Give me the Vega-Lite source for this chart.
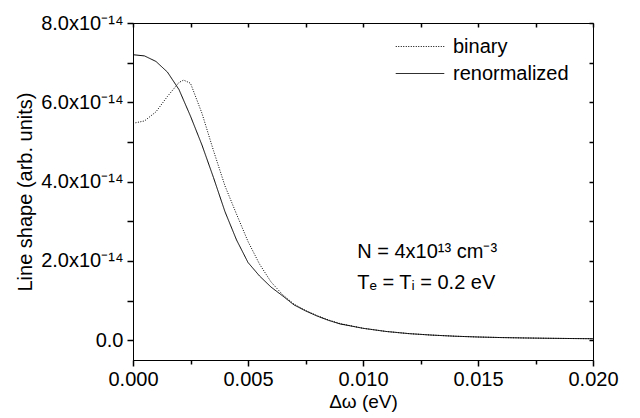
{
  "$schema": "https://vega.github.io/schema/vega-lite/v6.json",
  "width": 460,
  "height": 337,
  "autosize": "none",
  "padding": {"left": 133, "top": 23, "right": 47, "bottom": 58},
  "background": "white",
  "config": {
    "view": {"stroke": "black", "strokeWidth": 1},
    "font": "Liberation Sans",
    "axis": {"grid": false, "domainColor": "black", "labelColor": "black", "titleColor": "black", "labelFont": "Liberation Sans", "titleFont": "Liberation Sans", "labelFontSize": 20, "titleFontSize": 20, "titleFontWeight": "normal", "domainWidth": 1, "labelFlush": false, "labelOverlap": false, "zindex": 1}
  },
  "datasets": {
    "curves": [
      {"dw": 0.0, "v": 7.20e-14, "s": "renormalized"},
      {"dw": 0.0005, "v": 7.17e-14, "s": "renormalized"},
      {"dw": 0.001, "v": 7.03e-14, "s": "renormalized"},
      {"dw": 0.0015, "v": 6.76e-14, "s": "renormalized"},
      {"dw": 0.002, "v": 6.32e-14, "s": "renormalized"},
      {"dw": 0.0025, "v": 5.65e-14, "s": "renormalized"},
      {"dw": 0.003, "v": 4.92e-14, "s": "renormalized"},
      {"dw": 0.0035, "v": 4.10e-14, "s": "renormalized"},
      {"dw": 0.004, "v": 3.24e-14, "s": "renormalized"},
      {"dw": 0.0045, "v": 2.53e-14, "s": "renormalized"},
      {"dw": 0.005, "v": 1.96e-14, "s": "renormalized"},
      {"dw": 0.0055, "v": 1.62e-14, "s": "renormalized"},
      {"dw": 0.006, "v": 1.34e-14, "s": "renormalized"},
      {"dw": 0.0065, "v": 1.12e-14, "s": "renormalized"},
      {"dw": 0.007, "v": 0.89e-14, "s": "renormalized"},
      {"dw": 0.0075, "v": 0.74e-14, "s": "renormalized"},
      {"dw": 0.008, "v": 0.61e-14, "s": "renormalized"},
      {"dw": 0.0085, "v": 0.50e-14, "s": "renormalized"},
      {"dw": 0.009, "v": 0.41e-14, "s": "renormalized"},
      {"dw": 0.010, "v": 0.30e-14, "s": "renormalized"},
      {"dw": 0.011, "v": 0.22e-14, "s": "renormalized"},
      {"dw": 0.012, "v": 0.165e-14, "s": "renormalized"},
      {"dw": 0.013, "v": 0.128e-14, "s": "renormalized"},
      {"dw": 0.014, "v": 0.100e-14, "s": "renormalized"},
      {"dw": 0.015, "v": 0.080e-14, "s": "renormalized"},
      {"dw": 0.016, "v": 0.066e-14, "s": "renormalized"},
      {"dw": 0.017, "v": 0.056e-14, "s": "renormalized"},
      {"dw": 0.018, "v": 0.048e-14, "s": "renormalized"},
      {"dw": 0.019, "v": 0.042e-14, "s": "renormalized"},
      {"dw": 0.020, "v": 0.037e-14, "s": "renormalized"},
      {"dw": 0.0, "v": 5.47e-14, "s": "binary"},
      {"dw": 0.0005, "v": 5.53e-14, "s": "binary"},
      {"dw": 0.001, "v": 5.76e-14, "s": "binary"},
      {"dw": 0.0015, "v": 6.15e-14, "s": "binary"},
      {"dw": 0.002, "v": 6.50e-14, "s": "binary"},
      {"dw": 0.0022, "v": 6.56e-14, "s": "binary"},
      {"dw": 0.0025, "v": 6.48e-14, "s": "binary"},
      {"dw": 0.003, "v": 5.72e-14, "s": "binary"},
      {"dw": 0.0035, "v": 4.78e-14, "s": "binary"},
      {"dw": 0.004, "v": 3.89e-14, "s": "binary"},
      {"dw": 0.0045, "v": 3.18e-14, "s": "binary"},
      {"dw": 0.005, "v": 2.49e-14, "s": "binary"},
      {"dw": 0.0055, "v": 1.92e-14, "s": "binary"},
      {"dw": 0.006, "v": 1.47e-14, "s": "binary"},
      {"dw": 0.0065, "v": 1.15e-14, "s": "binary"},
      {"dw": 0.007, "v": 0.91e-14, "s": "binary"},
      {"dw": 0.0075, "v": 0.75e-14, "s": "binary"},
      {"dw": 0.008, "v": 0.62e-14, "s": "binary"},
      {"dw": 0.0085, "v": 0.51e-14, "s": "binary"},
      {"dw": 0.009, "v": 0.42e-14, "s": "binary"},
      {"dw": 0.010, "v": 0.30e-14, "s": "binary"},
      {"dw": 0.011, "v": 0.22e-14, "s": "binary"},
      {"dw": 0.012, "v": 0.165e-14, "s": "binary"},
      {"dw": 0.013, "v": 0.128e-14, "s": "binary"},
      {"dw": 0.014, "v": 0.100e-14, "s": "binary"},
      {"dw": 0.015, "v": 0.080e-14, "s": "binary"},
      {"dw": 0.016, "v": 0.066e-14, "s": "binary"},
      {"dw": 0.017, "v": 0.056e-14, "s": "binary"},
      {"dw": 0.018, "v": 0.048e-14, "s": "binary"},
      {"dw": 0.019, "v": 0.042e-14, "s": "binary"},
      {"dw": 0.020, "v": 0.037e-14, "s": "binary"}
    ],
    "notes": [
      {"dw": 0.00975, "v": 2.22e-14, "t": "N = 4x10¹³ cm⁻³"},
      {"dw": 0.00975, "v": 1.45e-14, "t": "Tₑ = Tᵢ = 0.2 eV"}
    ]
  },
  "resolve": {"axis": {"x": "independent", "y": "independent"}},
  "layer": [
    {
      "data": {"name": "notes"},
      "mark": {"type": "text", "align": "left", "baseline": "middle", "fontSize": 20, "font": "Liberation Sans", "color": "black"},
      "encoding": {
        "x": {"field": "dw", "type": "quantitative", "scale": {"domain": [0, 0.02], "nice": false, "zero": false},
          "axis": {"orient": "bottom", "values": [0, 0.0025, 0.005, 0.0075, 0.01, 0.0125, 0.015, 0.0175, 0.02],
            "labelExpr": "abs(datum.value / 0.005 - round(datum.value / 0.005)) < 0.01 ? format(datum.value, '.3f') : ''",
            "tickColor": "black", "tickWidth": 1.5,
            "tickSize": {"condition": {"test": "abs(datum.value / 0.005 - round(datum.value / 0.005)) < 0.01", "value": 6}, "value": 4},
            "labelPadding": 3, "title": "Δω (eV)", "titleFontSize": 19, "titlePadding": 3}},
        "y": {"field": "v", "type": "quantitative", "scale": {"domain": [-0.5e-14, 8e-14], "nice": false, "zero": false},
          "axis": {"orient": "left", "values": [0, 1e-14, 2e-14, 3e-14, 4e-14, 5e-14, 6e-14, 7e-14, 8e-14], "tickColor": "black", "tickWidth": 1.5, "tickSize": 6, "labelPadding": 4,
            "labelExpr": "round(datum.value / 1e-14) % 2 == 1 ? '' : (datum.value == 0 ? '0.0' : format(datum.value / 1e-14, '.1f') + 'x10⁻¹⁴')",
            "title": "Line shape (arb. units)", "titlePadding": 5}},
        "text": {"field": "t"}
      }
    },
    {
      "data": {"name": "curves"},
      "mark": {"type": "line", "strokeWidth": 1},
      "encoding": {
        "x": {"field": "dw", "type": "quantitative", "scale": {"domain": [0, 0.02], "nice": false, "zero": false},
          "axis": {"orient": "top", "values": [0, 0.0025, 0.005, 0.0075, 0.01, 0.0125, 0.015, 0.0175, 0.02], "tickColor": "black", "tickWidth": 1.5, "tickSize": 4, "offset": -4, "domain": false, "labels": false, "title": null}},
        "y": {"field": "v", "type": "quantitative", "scale": {"domain": [-0.5e-14, 8e-14], "nice": false, "zero": false},
          "axis": {"orient": "right", "values": [0, 1e-14, 2e-14, 3e-14, 4e-14, 5e-14, 6e-14, 7e-14, 8e-14], "tickColor": "black", "tickWidth": 1.5, "tickSize": 4, "offset": -4, "domain": false, "labels": false, "title": null}},
        "color": {"field": "s", "type": "nominal", "scale": {"domain": ["binary", "renormalized"], "range": ["black", "black"]},
          "legend": {"orient": "none", "legendX": 262, "legendY": 13, "title": null, "symbolType": "stroke", "symbolSize": 2350, "symbolStrokeWidth": 1, "labelFontSize": 20, "labelFont": "Liberation Sans", "labelColor": "black", "clipHeight": 21, "rowPadding": 6, "labelOffset": 8}},
        "strokeDash": {"field": "s", "type": "nominal", "scale": {"domain": ["binary", "renormalized"], "range": [[1, 1.5], [1, 0]]}, "legend": null}
      }
    }
  ]
}
